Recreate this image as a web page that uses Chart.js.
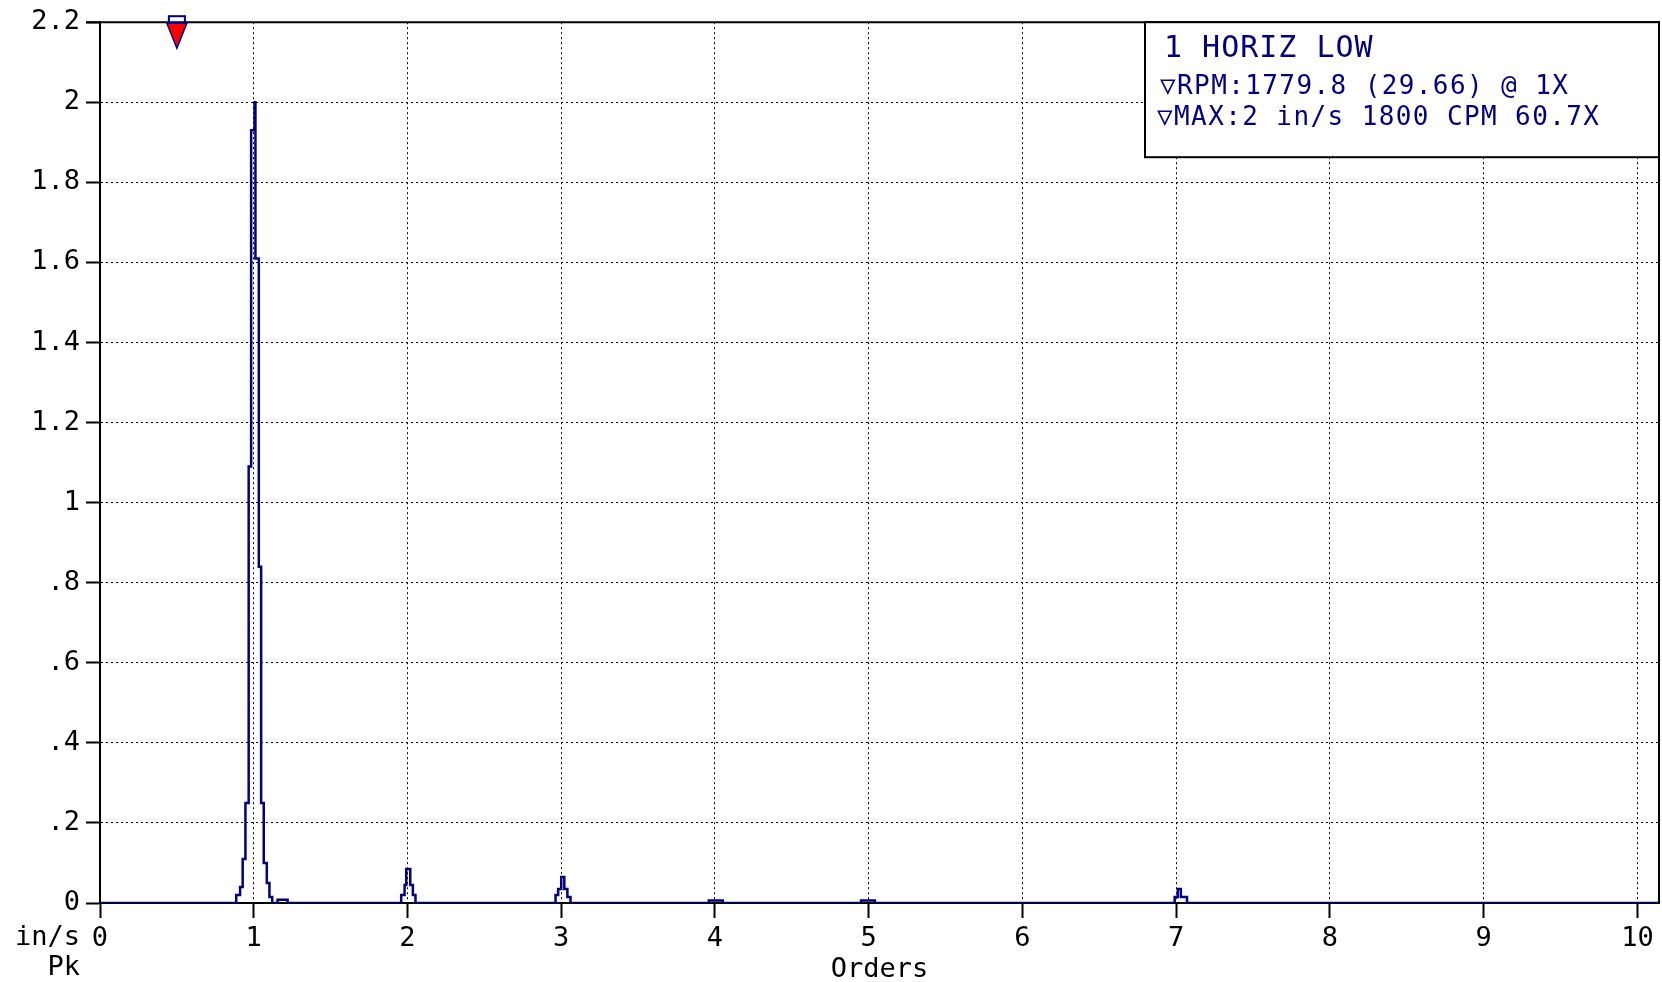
<!DOCTYPE html>
<html>
<head>
<meta charset="utf-8">
<script src="https://cdn.jsdelivr.net/npm/chart.js@4"></script>
<style>
  html, body { margin: 0; padding: 0; background: #fff; }
  .main-chart { position: relative; width: 1662px; height: 982px; }
</style>
</head>
<body>
<div class="main-chart"><canvas id="spectrum"></canvas></div>
<script>
// spectrum: order of run speed vs. velocity (in/s Pk)
const orders = [0, 0.886, 0.911, 0.928, 0.946, 0.967, 0.983, 1.005, 1.011, 1.033, 1.048, 1.065, 1.085, 1.102, 1.120,
                1.155, 1.22,
                1.959, 1.981, 1.992, 2.018, 2.035, 2.052,
                2.963, 2.98, 3.0, 3.02, 3.04, 3.06,
                3.96, 4.05,
                4.95, 5.04,
                6.99, 7.01, 7.03, 7.07,
                10.14];
const amplitude = [0, 0.02, 0.04, 0.11, 0.25, 1.09, 1.93, 2.0, 1.61, 0.84, 0.25, 0.10, 0.05, 0.015, 0,
                   0.008, 0,
                   0.02, 0.045, 0.085, 0.045, 0.02, 0,
                   0.02, 0.035, 0.065, 0.035, 0.015, 0,
                   0.006, 0,
                   0.006, 0,
                   0.015, 0.035, 0.015, 0,
                   0];
const xMax = 10.14;
const yMax = 2.2;
const markerOrder = 0.5;
const legendLines = ['1 HORIZ LOW', '\u25BDRPM:1779.8 (29.66) @ 1X', '\u25BDMAX:2 in/s 1800 CPM 60.7X'];
const yUnits = ['in/s', 'Pk'];

const NAVY = '#000080';
const MONO = '"DejaVu Sans Mono", "Liberation Mono", monospace';

const fmtY = function(v) {
    let s = (Math.round(v * 10) / 10).toString();
    if (s.startsWith('0.')) s = s.slice(1);
    return s;
};

const extras = {
    id: 'extras',
    afterDraw(chart) {
        const ctx = chart.ctx;
        const a = chart.chartArea;
        const xs = chart.scales.x;
        ctx.save();

        // frame top + right
        ctx.strokeStyle = '#000';
        ctx.lineWidth = 2;
        ctx.beginPath();
        ctx.moveTo(a.left - 14, a.top);
        ctx.lineTo(a.right, a.top);
        ctx.lineTo(a.right, a.bottom);
        ctx.stroke();

        // info box
        const bx = a.right - 514, by = a.top, bw = 514, bh = 135;
        ctx.fillStyle = '#fff';
        ctx.fillRect(bx, by, bw, bh);
        ctx.strokeRect(bx, by, bw, bh);
        ctx.fillStyle = NAVY;
        ctx.textBaseline = 'middle';
        ctx.textAlign = 'left';
        ctx.font = '30px ' + MONO;
        if ('letterSpacing' in ctx) ctx.letterSpacing = '1px';
        ctx.fillText(legendLines[0], bx + 19, by + 27);
        ctx.font = '26px ' + MONO;
        if ('letterSpacing' in ctx) ctx.letterSpacing = '1.4px';
        ctx.fillText(legendLines[1], bx + 15, by + 65);
        ctx.fillText(legendLines[2], bx + 12, by + 96);
        if ('letterSpacing' in ctx) ctx.letterSpacing = '0px';

        // units under the y axis
        ctx.fillStyle = '#000';
        ctx.textAlign = 'right';
        ctx.font = '27px ' + MONO;
        ctx.fillText(yUnits[0], a.left - 20, a.bottom + 35);
        ctx.fillText(yUnits[1], a.left - 20, a.bottom + 65);

        // marker at top
        const mx = xs.getPixelForValue(markerOrder);
        ctx.lineWidth = 2;
        ctx.strokeStyle = NAVY;
        ctx.fillStyle = '#fff';
        ctx.fillRect(mx - 8, a.top - 6, 16, 6);
        ctx.strokeRect(mx - 8, a.top - 6, 16, 6);
        ctx.beginPath();
        ctx.moveTo(mx - 10, a.top + 1);
        ctx.lineTo(mx + 10, a.top + 1);
        ctx.lineTo(mx, a.top + 26);
        ctx.closePath();
        ctx.fillStyle = '#ff0000';
        ctx.fill();
        ctx.lineWidth = 1.5;
        ctx.stroke();
        ctx.restore();
    }
};

new Chart(document.getElementById('spectrum'), {
    type: 'line',
    data: {
        datasets: [{
            label: '1 HORIZ LOW',
            data: orders.map((o, i) => ({x: o, y: amplitude[i]})),
            borderColor: NAVY,
            borderWidth: 2.5,
            pointRadius: 0,
            stepped: 'before',
            fill: false
        }]
    },
    options: {
        responsive: true,
        maintainAspectRatio: false,
        animation: false,
        layout: { padding: { top: 21, right: 3, left: 0, bottom: 0 } },
        plugins: {
            legend: { display: false },
            tooltip: { enabled: false }
        },
        scales: {
            x: {
                type: 'linear',
                min: 0,
                max: xMax,
                afterFit: s => { s.height = 79; },
                ticks: {
                    stepSize: 1,
                    includeBounds: false,
                    color: '#000',
                    padding: 5,
                    maxRotation: 0,
                    font: { family: MONO, size: 27 }
                },
                grid: { color: '#000', lineWidth: 1, tickLength: 15, tickWidth: 2, tickColor: '#000', tickBorderDash: [] },
                border: { color: '#000', width: 2, dash: [2, 3] },
                title: { display: true, text: 'Orders', color: '#000', padding: { top: 0, bottom: -4 }, font: { family: MONO, size: 27 } }
            },
            y: {
                min: 0,
                max: yMax,
                afterFit: s => { s.width = 100; },
                ticks: {
                    stepSize: 0.2,
                    color: '#000',
                    padding: 6,
                    callback: v => fmtY(v),
                    font: { family: MONO, size: 27 }
                },
                grid: { color: '#000', lineWidth: 1, tickLength: 14, tickWidth: 2, tickColor: '#000', tickBorderDash: [] },
                border: { color: '#000', width: 2, dash: [2, 3] }
            }
        }
    },
    plugins: [extras]
});
</script>
</body>
</html>
